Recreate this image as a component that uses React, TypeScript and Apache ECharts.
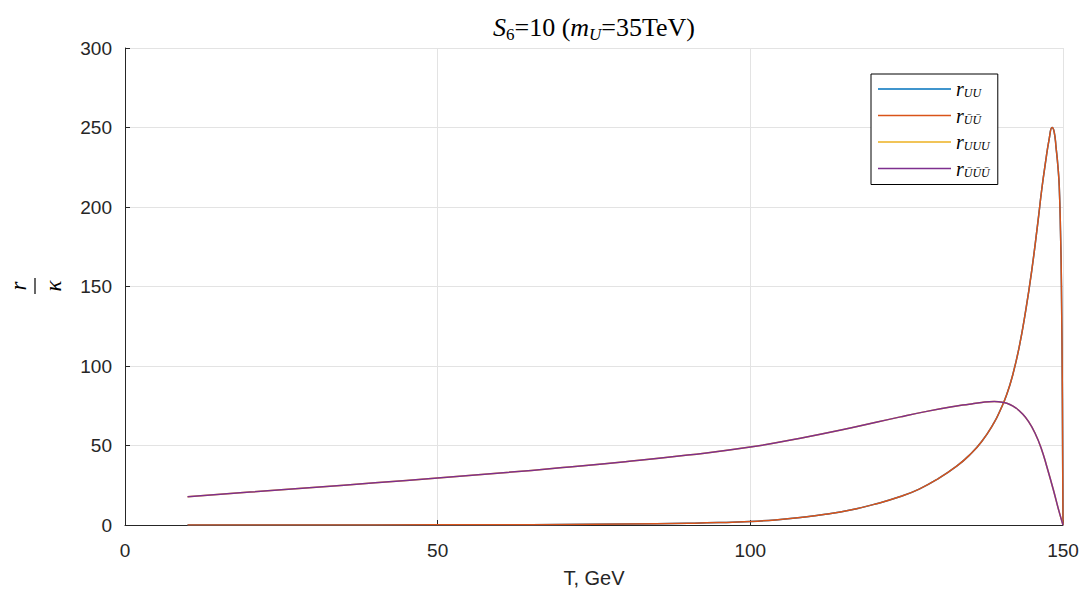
import React, { useEffect, useRef } from "react";
import * as echarts from "echarts";

// Series names (legend) and their subscripts
const SERIES_NAMES = ["rUU", "rUbUb", "rUUU", "rUbUbUb"];
const LEGEND_SUBS = ["UU", "ŪŪ", "UUU", "ŪŪŪ"];
const COLORS = ["#0072BD", "#D95319", "#EDB120", "#7E2F8E"];

// Two-particle ratio (r_UU and r_ŪŪ coincide)
const T_TWO = [10, 30, 50, 60, 70, 80, 90, 95, 100, 104, 108, 112, 116, 120, 124, 127, 130, 133, 135, 137, 139, 140, 141, 142, 143, 144, 145, 146, 146.6, 147.2, 147.8, 148.25, 148.6, 148.9, 149.2, 149.4, 149.6, 149.75, 149.9, 150];
const R_TWO = [0.0, 0.03, 0.08, 0.15, 0.3, 0.6, 1.1, 1.5, 2.2, 3.2, 4.7, 6.7, 9.4, 13.2, 17.9, 22.6, 29.0, 37.0, 43.8, 52.5, 64.5, 72.5, 82, 95, 112, 134, 160, 191, 211, 228, 243, 250, 247, 237, 225, 213, 185, 151, 80, 0];

// Three-particle ratio (r_UUU and r_ŪŪŪ coincide)
const T_THREE = [10, 20, 30, 40, 50, 60, 70, 80, 90, 100, 108, 116, 124, 128, 132, 135, 137, 139, 140.5, 141.5, 142.5, 143.5, 144.5, 145.5, 146.5, 147.5, 148.5, 149.3, 150];
const R_THREE = [17.8, 20.7, 23.6, 26.5, 29.5, 32.7, 36.1, 39.8, 44.0, 49.0, 54.6, 61.0, 68.0, 71.3, 74.2, 76.0, 77.1, 77.6, 77.0, 75.8, 73.5, 70.0, 65.0, 58.0, 48.5, 35.5, 21.5, 9.5, 0];

const X_MIN = 0, X_MAX = 150, X_STEP = 50;
const Y_MIN = 0, Y_MAX = 300, Y_STEP = 50;

const SERIES_DATA = [
  [T_TWO, R_TWO],
  [T_TWO, R_TWO],
  [T_THREE, R_THREE],
  [T_THREE, R_THREE],
];

export default function App() {
  const ref = useRef<HTMLDivElement>(null);
  useEffect(() => {
    if (!ref.current) return;
    const chart = echarts.init(ref.current, undefined, { renderer: "svg" });
    const serif = "'Liberation Serif', 'DejaVu Serif', serif";
    const sans = "'Liberation Sans', Arial, Helvetica, sans-serif";
    const axisColor = "#262626";
    const gridColor = "#e3e3e3";
    const legendRich: any = {
      r: { fontFamily: serif, fontStyle: "italic", fontSize: 20, color: "#000", lineHeight: 20, verticalAlign: "middle" },
      s: { fontFamily: serif, fontStyle: "italic", fontSize: 12, color: "#000", lineHeight: 10, verticalAlign: "bottom" },
    };
    const tBase = { fontFamily: serif, fontWeight: "normal", color: "#000" };
    const option: any = {
      animation: false,
      title: {
        text: "{i|S}{s|6}{n|=10 (}{i|m}{si|U}{n|=35TeV)}",
        left: 594,
        textAlign: "center",
        top: 11,
        padding: 0,
        textStyle: {
          fontWeight: "normal",
          rich: {
            i: { ...tBase, fontStyle: "italic", fontSize: 26, lineHeight: 32, verticalAlign: "middle" },
            n: { ...tBase, fontSize: 26, lineHeight: 32, verticalAlign: "middle" },
            s: { ...tBase, fontSize: 17, lineHeight: 15, verticalAlign: "bottom" },
            si: { ...tBase, fontStyle: "italic", fontSize: 17, lineHeight: 15, verticalAlign: "bottom" },
          },
        },
      },
      grid: { left: 125, right: 26, top: 48, bottom: 75, containLabel: false },
      legend: {
        orient: "vertical",
        left: 871,
        top: 74,
        padding: [5, 8, 6, 7],
        itemGap: 6.5,
        itemWidth: 73,
        itemHeight: 1.5,
        icon: "rect",
        borderColor: "#000",
        borderWidth: 1,
        borderRadius: 0,
        backgroundColor: "#fff",
        data: SERIES_NAMES,
        formatter: (name: string) => {
          const i = SERIES_NAMES.indexOf(name);
          return "{r|r}{s|" + LEGEND_SUBS[i] + "}";
        },
        textStyle: { rich: legendRich },
      },
      xAxis: {
        type: "value",
        min: X_MIN,
        max: X_MAX,
        interval: X_STEP,
        name: "T, GeV",
        nameLocation: "middle",
        nameGap: 43,
        nameTextStyle: { fontFamily: sans, fontSize: 20, color: axisColor },
        axisLine: { show: true, lineStyle: { color: axisColor, width: 1 } },
        axisTick: { show: true, inside: true, length: 5, lineStyle: { color: axisColor } },
        axisLabel: { fontFamily: sans, fontSize: 19, color: axisColor, margin: 16 },
        splitLine: { show: true, lineStyle: { color: gridColor, width: 1 } },
      },
      yAxis: {
        type: "value",
        min: Y_MIN,
        max: Y_MAX,
        interval: Y_STEP,
        axisLine: { show: true, lineStyle: { color: axisColor, width: 1 } },
        axisTick: { show: true, inside: true, length: 5, lineStyle: { color: axisColor } },
        axisLabel: { fontFamily: sans, fontSize: 19, color: axisColor, margin: 13 },
        splitLine: { show: true, lineStyle: { color: gridColor, width: 1 } },
      },
      graphic: [
        {
          type: "group",
          x: 35,
          y: 286,
          rotation: Math.PI / 2,
          children: [
            { type: "text", x: 0, y: -17, style: { text: "r", fontFamily: serif, fontStyle: "italic", fontSize: 23, fill: "#000", textAlign: "center", textVerticalAlign: "middle" } },
            { type: "line", shape: { x1: -8, y1: 0, x2: 8, y2: 0 }, style: { stroke: "#000", lineWidth: 1.2 } },
            { type: "text", x: 0, y: 18, style: { text: "κ", fontFamily: serif, fontStyle: "italic", fontSize: 23, fill: "#000", textAlign: "center", textVerticalAlign: "middle" } },
          ],
        },
      ],
      series: SERIES_NAMES.map((name, k) => ({
        name,
        type: "line",
        showSymbol: false,
        symbol: "none",
        smooth: 0.5,
        color: COLORS[k],
        lineStyle: { color: COLORS[k], width: 1.5 },
        data: SERIES_DATA[k][0].map((t, j) => [t, SERIES_DATA[k][1][j]]),
        z: 2 + k,
      })),
    };
    chart.setOption(option);
    return () => chart.dispose();
  }, []);
  return (
    <div
      ref={ref}
      style={{ position: "absolute", left: 0, top: 0, width: 1089, height: 600, background: "#fff" }}
    />
  );
}
